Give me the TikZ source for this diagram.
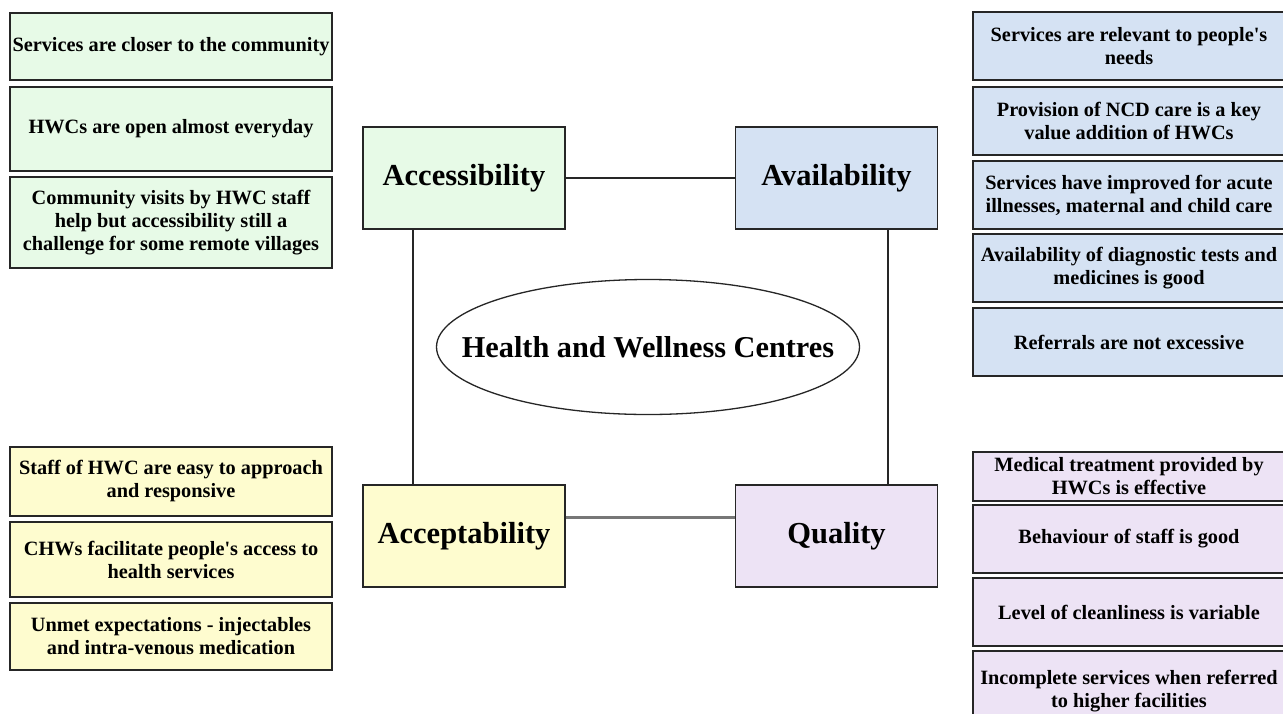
\documentclass[tikz,border=0pt]{standalone}
\usepackage{fontspec}
\setmainfont{Liberation Serif}
\usepackage{tikz}
\usetikzlibrary{positioning, calc, shapes.geometric}
\usepackage{xcolor}
\definecolor{accgreen}{HTML}{E7FAE7}
\definecolor{avlblue}{HTML}{D5E2F3}
\definecolor{acpyellow}{HTML}{FEFCCF}
\definecolor{qlyviolet}{HTML}{EDE3F5}
\definecolor{linkgray}{HTML}{777777}

\begin{document}
\begin{tikzpicture}[x=1pt, y=-1pt,
    dimbox/.style={draw=black!85, line width=1.3pt, inner sep=0pt,
          minimum width=202pt, minimum height=102pt,
          font=\fontsize{30.5}{34}\selectfont\bfseries},
    leftbox/.style={draw=black!85, line width=1.6pt, inner sep=0pt,
          minimum width=322pt, align=center,
          font=\fontsize{20.3}{23}\selectfont\bfseries},
    rightbox/.style={leftbox, minimum width=312pt},
    link/.style={draw=black!85, line width=1.3pt}]
    \useasboundingbox[fill=white] (0,0) rectangle (1283,713);

    % the four dimensions and the centre
    \node[dimbox, fill=accgreen] (acc) at (464, 178) {Accessibility};
    \node[dimbox, fill=avlblue] (avl) at (836.5, 178) {Availability};
    \node[dimbox, fill=acpyellow] (acp) at (464, 536) {Acceptability};
    \node[dimbox, fill=qlyviolet] (qly) at (836.5, 536) {Quality};
    \node[draw=black!85, line width=1.3pt, ellipse, inner sep=0pt,
          minimum width=423pt, minimum height=135pt,
          label={[font=\fontsize{30.3}{34}\selectfont\bfseries]center:Health and Wellness Centres}]
      (hwc) at (648, 347) {};

    \draw[link] (acc.east) -- (avl.west);
    \draw[link, draw=linkgray, line width=3pt]
      ([yshift=19pt]acp.east) -- ([yshift=19pt]qly.west);
    \draw[link] ([xshift=-51pt]acc.south) -- ([xshift=-51pt]acp.north);
    \draw[link] ([xshift=51.5pt]avl.south) -- ([xshift=51.5pt]qly.north);

    % accessibility findings
    \node[leftbox, fill=accgreen, minimum height=67pt] (acc1) at (171, 46.5)
      {Services are closer to the community};
    \node[leftbox, fill=accgreen, minimum height=84pt] (acc2) at (171, 129)
      {HWCs are open almost everyday};
    \node[leftbox, fill=accgreen, minimum height=91pt] (acc3) at (171, 222.5)
      {Community visits by HWC staff\\help but accessibility still a\\challenge for some remote villages};

    % availability findings
    \node[rightbox, fill=avlblue, minimum height=68pt] (avl1) at (1129, 46)
      {Services are relevant to people\textquotesingle s\\needs};
    \node[rightbox, fill=avlblue, minimum height=68pt] (avl2) at (1129, 121)
      {Provision of NCD care is a key\\value addition of HWCs};
    \node[rightbox, fill=avlblue, minimum height=68pt] (avl3) at (1129, 195)
      {Services have improved for acute\\illnesses, maternal and child care};
    \node[rightbox, fill=avlblue, minimum height=68pt] (avl4) at (1129, 268)
      {Availability of diagnostic tests and\\medicines is good};
    \node[rightbox, fill=avlblue, minimum height=68pt] (avl5) at (1129, 342)
      {Referrals are not excessive};

    % acceptability findings
    \node[leftbox, fill=acpyellow, minimum height=69pt] (acp1) at (171, 481.5)
      {Staff of HWC are easy to approach\\and responsive};
    \node[leftbox, fill=acpyellow, minimum height=75pt] (acp2) at (171, 559.5)
      {CHWs facilitate people\textquotesingle s access to\\health services};
    \node[leftbox, fill=acpyellow, minimum height=67pt] (acp3) at (171, 636.5)
      {Unmet expectations - injectables\\and intra-venous medication};

    % quality findings
    \node[rightbox, fill=qlyviolet, minimum height=49pt] (qly1) at (1129, 476.5)
      {Medical treatment provided by\\HWCs is effective};
    \node[rightbox, fill=qlyviolet, minimum height=68pt] (qly2) at (1129, 539)
      {Behaviour of staff is good};
    \node[rightbox, fill=qlyviolet, minimum height=68pt] (qly3) at (1129, 612)
      {Level of cleanliness is variable};
    \node[rightbox, fill=qlyviolet, minimum height=80pt] (qly4) at (1129, 691)
      {Incomplete services when referred\\to higher facilities};
  \end{tikzpicture}
\end{document}
